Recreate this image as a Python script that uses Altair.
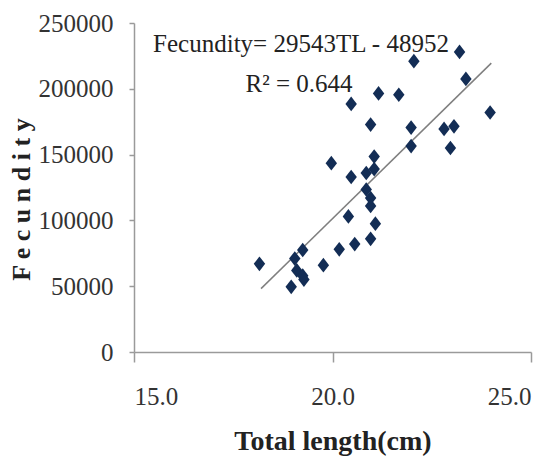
import altair as alt
import pandas as pd

# Data
total_length = [18.16, 18.96, 19.05, 19.10, 19.25, 19.25, 19.28, 19.77, 19.97, 20.17,
                20.40, 20.47, 20.47, 20.56, 20.85, 20.85, 20.96, 20.96, 20.96, 20.96,
                21.05, 21.05, 21.08, 21.16, 21.67, 21.98, 21.98, 22.05, 22.81, 22.97,
                23.06, 23.20, 23.36, 23.97]
fecundity = [67000, 49500, 71000, 62000, 77500, 58000, 55000, 66000, 143500, 78000,
             103000, 188500, 133000, 82000, 136000, 123500, 172800, 117000, 111000, 86000,
             148500, 139000, 97500, 196500, 195500, 170500, 156500, 221000, 169500, 155000,
             171500, 228000, 207500, 182000]

# Trend line (as shown in the figure)
slope = 29543
intercept = -489520
line_x = [18.2, 24.0]

x_ticks = [15, 20, 25]
y_ticks = [0, 50000, 100000, 150000, 200000, 250000]

eq_text = ["Fecundity= 29543TL  - 48952"]
r2_text = ["R² = 0.644"]

pts = pd.DataFrame({"TL": total_length, "F": fecundity})
ln = pd.DataFrame({"TL": line_x})
ln["F"] = slope * ln["TL"] + intercept

FONT = "Liberation Serif"

xs = alt.Scale(domain=[15, 25], nice=False, zero=False)
ys = alt.Scale(domain=[0, 250000], nice=False)

x_axis = alt.Axis(values=x_ticks, format=".1f", title="Total length(cm)", grid=False,
                  domainColor="#9a9a9a", domainWidth=1.5, tickColor="#9a9a9a", tickWidth=1.5,
                  tickSize=10, labelPadding=22, labelFont=FONT, labelFontSize=25,
                  labelColor="#333333", titleFont=FONT, titleFontSize=28, titleFontWeight="bold",
                  titleColor="#222222", titlePadding=18)
y_axis = alt.Axis(values=y_ticks, format="d", title="F e c u n d i t y", grid=False,
                  domainColor="#9a9a9a", domainWidth=1.5, tickColor="#9a9a9a", tickWidth=1.5,
                  tickSize=5, labelPadding=16, labelFont=FONT, labelFontSize=25,
                  labelColor="#333333", titleFont=FONT, titleFontSize=26, titleFontWeight="bold",
                  titleColor="#222222", titlePadding=4, titleY=176)

points = alt.Chart(pts).mark_point(
    shape="M-0.78,0L0,-1L0.78,0L0,1Z", filled=True, fill="#132d55", opacity=1,
    size=215, strokeWidth=0
).encode(
    x=alt.X("TL:Q", scale=xs, axis=x_axis),
    y=alt.Y("F:Q", scale=ys, axis=y_axis),
)

trend = alt.Chart(ln).mark_line(color="#7f7f7f", strokeWidth=1.5).encode(
    x=alt.X("TL:Q", scale=xs),
    y=alt.Y("F:Q", scale=ys),
)

eq = alt.Chart(pd.DataFrame({"t": eq_text})).mark_text(
    font=FONT, fontSize=25, color="#222222", align="center", baseline="middle"
).encode(text="t:N", x=alt.value(167), y=alt.value(21))

r2 = alt.Chart(pd.DataFrame({"t": r2_text})).mark_text(
    font=FONT, fontSize=25, color="#222222", align="center", baseline="middle"
).encode(text="t:N", x=alt.value(165), y=alt.value(61))

chart = alt.layer(trend, points, eq, r2).properties(
    width=397, height=329,
    autosize=alt.AutoSizeParams(type="none"),
    padding={"left": 126, "top": 15, "right": 21, "bottom": 114},
).configure_view(stroke=None)

chart.save("out.html", embed_options={"renderer": "svg", "actions": False})
